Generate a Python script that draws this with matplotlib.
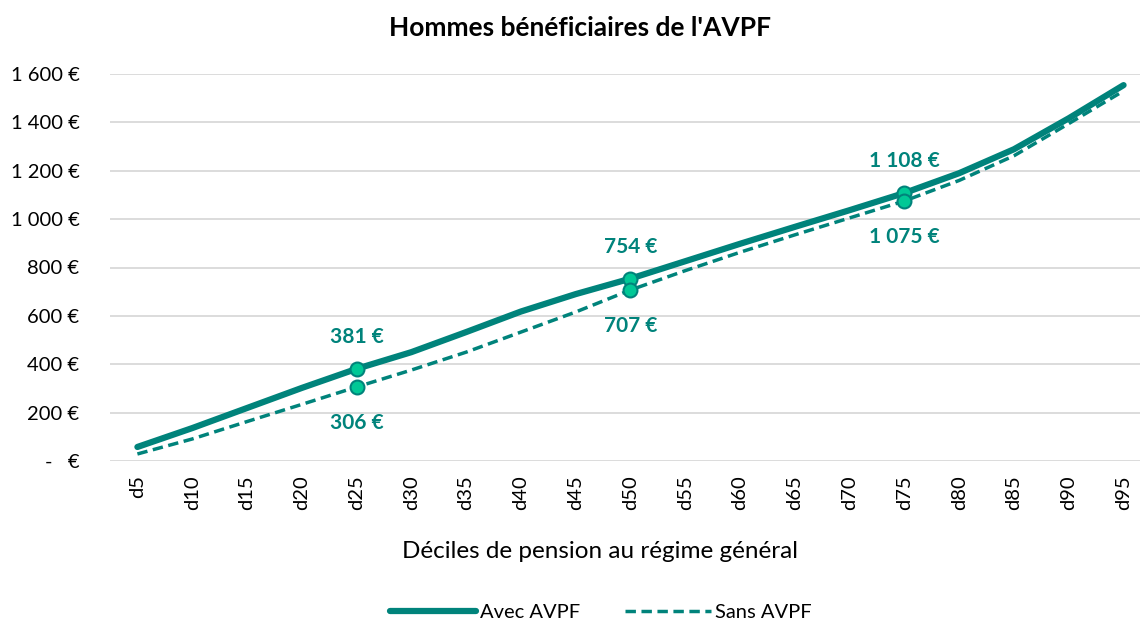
import matplotlib.pyplot as plt
import numpy as np

plt.rcParams['font.family'] = ['Lato', 'DejaVu Sans']

deciles = ['d5', 'd10', 'd15', 'd20', 'd25', 'd30', 'd35', 'd40', 'd45', 'd50',
           'd55', 'd60', 'd65', 'd70', 'd75', 'd80', 'd85', 'd90', 'd95']
avec = [58, 136, 219, 302, 381, 450, 533, 618, 690, 754,
        826, 898, 968, 1037, 1108, 1190, 1289, 1417, 1554]
sans = [29, 91, 163, 234, 306, 376, 450, 533, 616, 707,
        787, 863, 935, 1005, 1075, 1160, 1262, 1395, 1530]
label_idx = [4, 9, 14]

teal = '#00837B'
mark_fill = '#00C896'


def euro(v):
    if v == 0:
        return '-   €'
    return '{:,}'.format(int(v)).replace(',', ' ') + ' €'


fig = plt.figure(figsize=(11.4, 6.25), dpi=100)
ax = fig.add_axes([0.0965, 0.2624, 0.9035, 0.6192])

x = np.arange(len(deciles))
ax.plot(x, avec, color=teal, lw=4.5, solid_capstyle='round', label='Avec AVPF', zorder=3)
ax.plot(x, sans, color=teal, lw=2.5, ls=(0, (3, 1.6)), label='Sans AVPF', zorder=3)

# points annotés (d25, d50, d75)
for i in label_idx:
    ax.plot(x[i], avec[i], 'o', ms=10, mfc=mark_fill, mec=teal, mew=1.5, zorder=4)
    ax.plot(x[i], sans[i], 'o', ms=10, mfc=mark_fill, mec=teal, mew=1.5, ls='none', zorder=4)
    ax.annotate(euro(avec[i]), (x[i], avec[i]), xytext=(0, 23), textcoords='offset points',
                ha='center', va='center', color=teal, fontsize=15, fontweight='bold')
    ax.annotate(euro(sans[i]), (x[i], sans[i]), xytext=(0, -26), textcoords='offset points',
                ha='center', va='center', color=teal, fontsize=15, fontweight='bold')

ax.set_ylim(0, 1600)
ax.set_yticks(np.arange(0, 1601, 200))
ax.set_yticklabels([euro(v) for v in np.arange(0, 1601, 200)], fontsize=14.5)
ax.set_xlim(-0.5, 18.3)
ax.set_xticks(x)
ax.set_xticklabels(deciles, rotation=90, fontsize=14.5)
ax.tick_params(length=0, pad=10)
ax.tick_params(axis='y', pad=22)
ax.grid(axis='y', color='#d9d9d9', lw=1.3)
ax.set_axisbelow(True)
for s in ax.spines.values():
    s.set_visible(False)

fig.text(0.526, 0.117, 'Déciles de pension au régime général', ha='center', va='center',
         fontsize=17.5)
fig.text(0.509, 0.955, "Hommes bénéficiaires de l'AVPF", ha='center', va='center',
         fontsize=19, fontweight='bold')
fig.legend(loc='center', bbox_to_anchor=(0.527, 0.02), ncol=2, frameon=False,
           fontsize=14.5, handlelength=4.3, columnspacing=2.2, handletextpad=0.2)

fig.savefig('out.png', dpi=100)
